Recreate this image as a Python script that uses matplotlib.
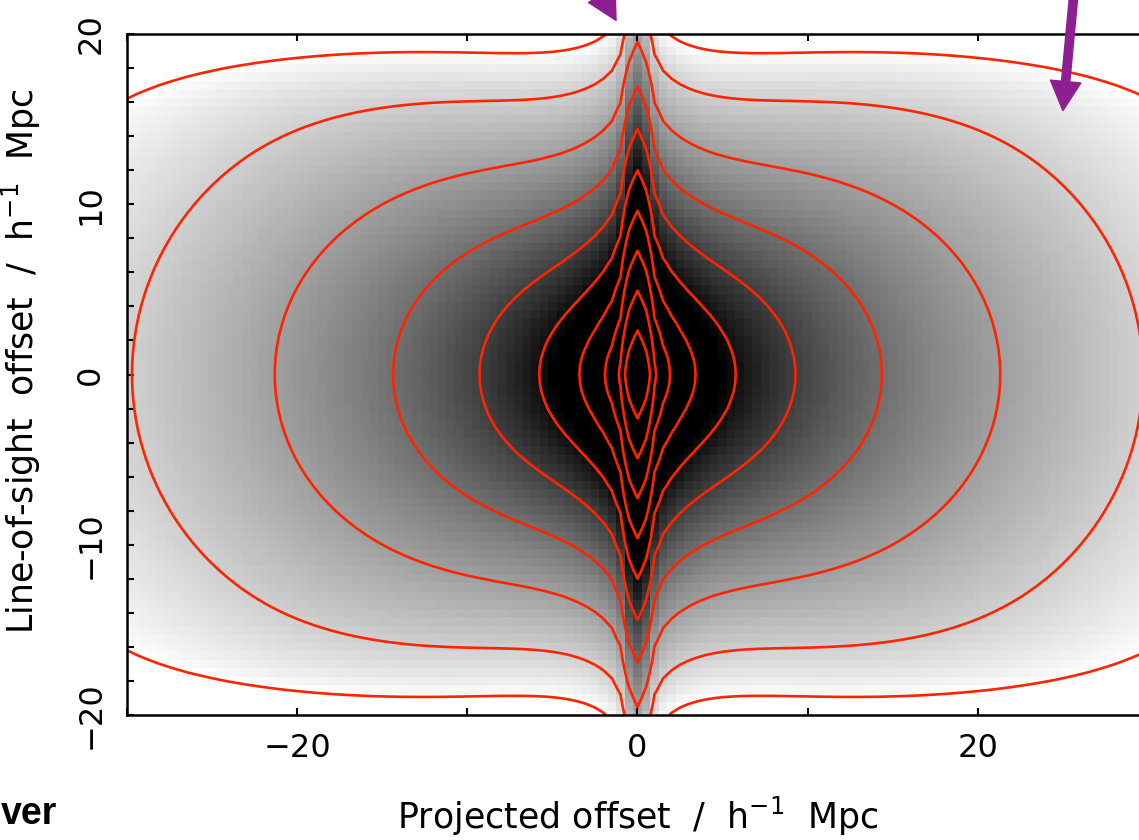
import numpy as np
import matplotlib
matplotlib.use("Agg")
import matplotlib.pyplot as plt
from matplotlib.colors import LogNorm
from matplotlib.ticker import MultipleLocator

plt.rcParams['font.family'] = ['DejaVu Sans']
plt.rcParams['mathtext.fontset'] = 'dejavusans'
plt.rcParams['mathtext.default'] = 'regular'

# streaming-model parameters, tuned by eye to the contour shapes
r0 = 5.0          # real-space correlation length, h^-1 Mpc
gamma = 1.8       # power-law slope
beta = 0.45       # linear infall (Kaiser) parameter
sigma_v = 4.5     # pairwise velocity dispersion, h^-1 Mpc
r_core = 0.125    # small-scale softening
# narrow finger-of-god spike along the line of sight
finger_amp = 16.0
finger_width = 0.42
finger_disp = 4.84
# extra large-scale damping: steeper fall-off and flattening away from the axis
r_break = 45.0
flatten = 0.3
sig_flat = 5.0
pi_wall = 20.3
wall_power = 12
sig_wall = 2.0

# contour levels of xi(sigma, pi)
levels = [1/32, 1/16, 1/8, 1/4, 1/2, 1, 2, 4, 8, 16]
shade_min = 1/32
shade_max = 1.25

# grid of the binned estimate (0.5 h^-1 Mpc cells)
cell = 0.5
sig = np.arange(-30, 30 + cell / 2, cell)
pi = np.arange(-20, 20 + cell / 2, cell)

x_ticks = [-20, 0, 20]
y_ticks = [-20, -10, 0, 10, 20]

# arrows pointing into the plot (tip, tail) in data units
arrow_a = ((-1.26, 20.8), (-5.6, 28.5))
arrow_b = ((25.0, 15.5), (25.8, 24.0))


def xi_kaiser(s_perp, s_par):
    s = np.sqrt(s_perp**2 + s_par**2)
    mu = s_par / np.where(s > 0, s, 1.0)
    xi = (r0 / np.sqrt(s**2 + r_core**2))**gamma
    a0 = 1 + 2 * beta / 3 + beta**2 / 5
    a2 = (4 * beta / 3 + 4 * beta**2 / 7) * (1 - 3 / (3 - gamma))
    a4 = 8 * beta**2 / 35 * (1 + 2.5 * 3 / (3 - gamma) - 3.5 * 5 / (5 - gamma))
    p2 = (3 * mu**2 - 1) / 2
    p4 = (35 * mu**4 - 30 * mu**2 + 3) / 8
    return xi * (a0 + a2 * p2 + a4 * p4)


dy = 0.025
y = np.arange(-60, 60 + dy / 2, dy)
v = np.arange(-35, 35 + dy / 2, dy)
kern = np.exp(-np.sqrt(2) * np.abs(v) / sigma_v) / (np.sqrt(2) * sigma_v) * dy

rows = {}
for s_abs in np.unique(np.abs(sig)):
    smeared = np.convolve(xi_kaiser(s_abs, y), kern, mode='same')
    rows[s_abs] = np.interp(pi, y, smeared)
Z = np.array([rows[abs(s)] for s in sig]).T

S, P = np.meshgrid(sig, pi)
Z = Z + finger_amp * np.exp(-S**2 / (2 * finger_width**2)) * np.exp(-np.sqrt(2) * np.abs(P) / finger_disp)

R2 = S**2 + P**2
MU2 = P**2 / np.where(R2 > 0, R2, 1.0)
Z = Z / (1 + R2**2 / r_break**4)
Z = Z * (1 - flatten * MU2 * S**2 / (S**2 + sig_flat**2))
Z = Z / (1 + (np.abs(P) / pi_wall)**wall_power * S**2 / (S**2 + sig_wall**2))

fig = plt.figure(figsize=(11.39, 8.40), dpi=100)
ax = fig.add_axes([127 / 1139, 125 / 840, 1021 / 1139, 681 / 840])

ax.imshow(Z, origin='lower', cmap='gray_r',
          norm=LogNorm(vmin=shade_min, vmax=shade_max, clip=True),
          extent=[sig[0] - cell / 2, sig[-1] + cell / 2, pi[0] - cell / 2, pi[-1] + cell / 2],
          interpolation='nearest', aspect='auto')
ax.contour(sig, pi, Z, levels=levels, colors='#ff2400', linewidths=1.9)

ax.set_xlim(-30, 30)
ax.set_ylim(-20, 20)
ax.set_xticks(x_ticks)
ax.xaxis.set_minor_locator(MultipleLocator(10))
ax.set_yticks(y_ticks)
ax.yaxis.set_minor_locator(MultipleLocator(2))
ax.tick_params(which='both', direction='in', top=True, right=True,
               length=5, width=1.5, labelsize=23)
ax.tick_params(axis='x', pad=13)
ax.tick_params(axis='y', pad=15, labelrotation=90)
for lab in ax.get_yticklabels():
    lab.set_va('center')
for sp in ax.spines.values():
    sp.set_linewidth(1.8)

ax.set_xlabel('Projected offset  /  h$^{-1}$  Mpc', fontsize=25, labelpad=22)
ax.set_ylabel('Line-of-sight  offset  /  h$^{-1}$  Mpc', fontsize=25)
ax.yaxis.set_label_coords(-0.082, 0.52)

for tip, tail in (arrow_a, arrow_b):
    ax.annotate('', xy=tip, xytext=tail, annotation_clip=False,
                arrowprops=dict(color='#8e1f93', width=6, headwidth=22, headlength=21))

fig.text(57 / 1139, 16 / 840, 'ver', ha='right', va='baseline',
         fontsize=27, fontweight='bold', family='Liberation Sans')

fig.savefig('out.png', dpi=100)
